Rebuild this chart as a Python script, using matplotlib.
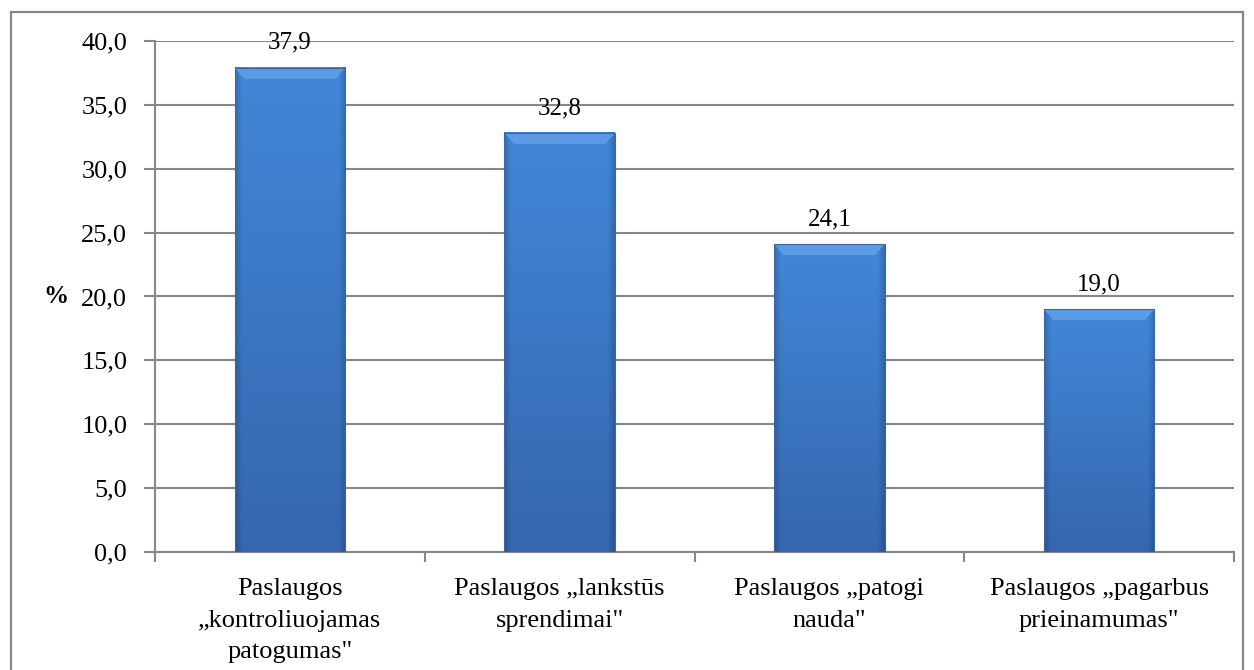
import matplotlib.pyplot as plt
import numpy as np
from matplotlib.patches import Rectangle, Polygon
from matplotlib.colors import to_rgb

categories = ['Paslaugos\n„kontroliuojamas\npatogumas"',
              'Paslaugos „lankstūs\nsprendimai"',
              'Paslaugos „patogi\nnauda"',
              'Paslaugos „pagarbus\nprieinamumas"']
values = [37.9, 32.8, 24.1, 19.0]
value_labels = ['37,9', '32,8', '24,1', '19,0']
yticks = [0, 5, 10, 15, 20, 25, 30, 35, 40]
ytick_labels = ['0,0', '5,0', '10,0', '15,0', '20,0', '25,0', '30,0', '35,0', '40,0']

plt.rcParams['font.family'] = ['Liberation Serif', 'DejaVu Serif']
grey = '#878787'

fig = plt.figure(figsize=(12.54, 6.70), dpi=100)
ax = fig.add_axes([155/1254, 1-552/670, (1234-155)/1254, 511/670])

# outer chart frame
fig.patches.append(Rectangle((11/1254, -0.01), (1243-11)/1254, 1.01-12/670,
                             transform=fig.transFigure, fill=False,
                             edgecolor=grey, lw=1.6, zorder=0))

x = np.arange(len(values))
width = 0.41
bars = ax.bar(x, values, width=width, color='#3d7cce', zorder=2, lw=0)

# shaded bar face: lighter at top, darker at bottom and along the sides
top_c = np.array(to_rgb('#4187d8'))
bot_c = np.array(to_rgb('#3566ae'))
ny, nx = 200, 100
t = np.linspace(1, 0, ny)[:, None, None]
face = t * top_c + (1 - t) * bot_c
face = np.repeat(face, nx, axis=1)
u = np.linspace(0, 1, nx)
side = 1 - 0.18 * np.clip(1 - np.minimum(u, 1 - u) / 0.06, 0, 1)
face = face * side[None, :, None]

for b, v in zip(bars, values):
    x0 = b.get_x()
    ax.imshow(face, aspect='auto', zorder=3, extent=(x0, x0 + width, 0, v),
              interpolation='bilinear')
    dx, dy = 0.035, 0.85
    ax.add_patch(Polygon([(x0, v), (x0 + width, v), (x0 + width - dx, v - dy),
                          (x0 + dx, v - dy)], closed=True, color='#5b9be3',
                         lw=0, zorder=4))
    ax.add_patch(Rectangle((x0, 0), width, v, fill=False, edgecolor='#3b68a3',
                           lw=0.8, zorder=5))

for xi, v, lab in zip(x, values, value_labels):
    ax.annotate(lab, (xi, v), xytext=(0, 10), textcoords='offset points',
                ha='center', va='bottom', fontsize=18)

ax.set_xlim(-0.5, len(values) - 0.5)
ax.set_ylim(0, 40)
ax.set_yticks(yticks)
ax.set_yticklabels(ytick_labels, fontsize=19)
ax.yaxis.grid(True, color=grey, lw=1.5, zorder=1)
ax.set_axisbelow(True)

ax.set_xticks(x)
ax.set_xticklabels(categories, fontsize=19, linespacing=1.55)
ax.set_xticks(np.arange(-0.5, len(values)), minor=True)
ax.tick_params(axis='x', which='major', length=0, pad=19)
ax.tick_params(axis='x', which='minor', length=7, color=grey, width=1.5)
ax.tick_params(axis='y', length=8, color=grey, width=1.5, pad=12)

for s in ['top', 'right']:
    ax.spines[s].set_visible(False)
for s in ['left', 'bottom']:
    ax.spines[s].set_color(grey)
    ax.spines[s].set_linewidth(1.5)

ax.set_ylabel('%', rotation=0, fontsize=18, fontweight='bold', labelpad=18, va='center')

fig.savefig('out.png', dpi=100)
